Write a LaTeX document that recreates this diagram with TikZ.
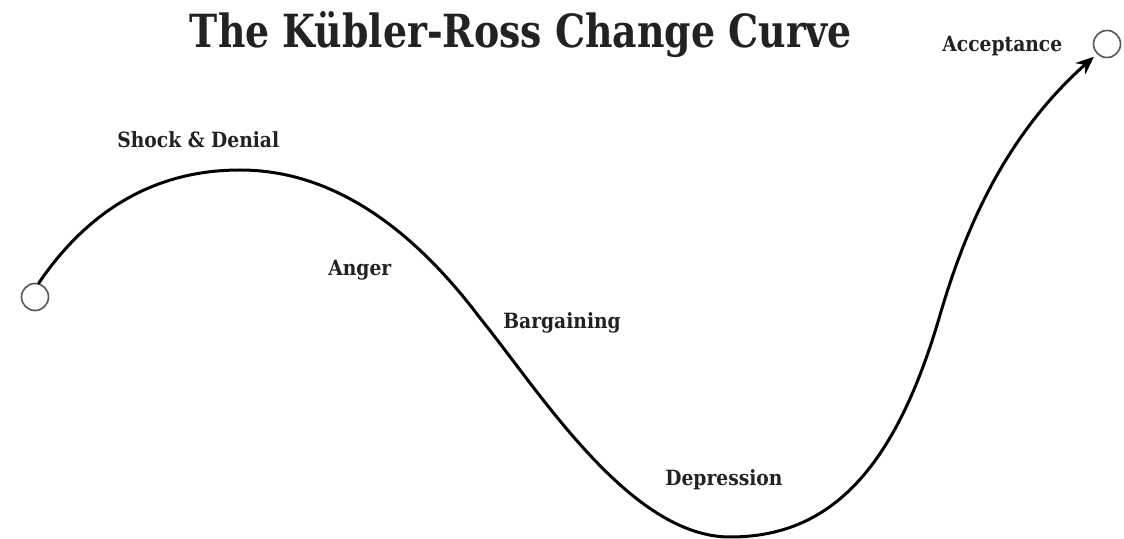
\documentclass[tikz,border=0pt]{standalone}
\usepackage{fontspec}
\setmainfont{DejaVu Serif}
\newfontfamily\lblfont{DejaVu Serif}[FakeStretch=0.89]
\usetikzlibrary{arrows.meta}
\definecolor{ink}{HTML}{222222}
\definecolor{ringgray}{HTML}{555555}
\tikzset{
  lbl/.style={anchor=base west, inner sep=0pt, text=ink, font=\lblfont\bfseries\fontsize{10.5}{12}\selectfont},
  ring/.style={circle, draw=ringgray, line width=0.8pt, fill=white, minimum size=13.5pt, inner sep=0pt},
  curve/.style={line width=1.5pt, black, line cap=round}
}
\begin{document}
\begin{tikzpicture}[x=0.5pt,y=-0.5pt]
\useasboundingbox[fill=white] (0,0) rectangle (1124,539);
\node[anchor=base, inner sep=0pt, text=ink] (title) at (521,48)
  {\resizebox{331pt}{18pt}{\bfseries The Kübler-Ross Change Curve}};
\node[ring] (start) at (35,297) {};
\node[ring] (end) at (1107,44) {};
\node[lbl] (shock) at (117,148) {Shock \& Denial};
\node[lbl] (anger) at (328,276) {Anger};
\node[lbl] (barg) at (503,329) {Bargaining};
\node[lbl] (dep) at (665,485) {Depression};
\node[lbl] (acc) at (942,52) {Acceptance};
\draw[curve, -{Stealth[length=9pt,width=7.5pt]}, shorten >=2pt]
  (start.75) .. controls (85,215) and (150,170) .. (240,170)
  .. controls (330,170) and (410,225) .. (480,318)
  .. controls (540,392) and (630,537) .. (730,537)
  .. controls (830,537) and (895,470) .. (940,315)
  .. controls (962,240) and (1000,140) .. (end.225);
\end{tikzpicture}
\end{document}
